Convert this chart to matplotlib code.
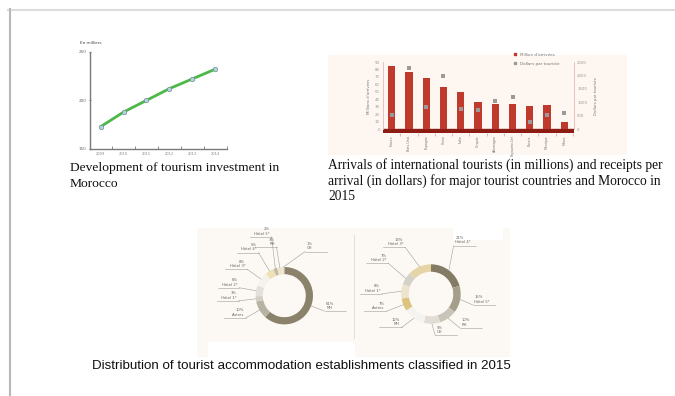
import numpy as np
import matplotlib
matplotlib.use('Agg')
import matplotlib.pyplot as plt
from matplotlib.patches import Rectangle
from matplotlib.lines import Line2D

W, H = 675, 396

# --- line chart: tourism investment (en milliers)
inv_years = ['2009', '2010', '2011', '2012', '2013', '2014']
inv_values = [173, 188, 200, 212, 222, 232]

# --- bar chart: arrivals (millions) and receipts per arrival (dollars), 2015
countries = ['France', 'Etats-Unis', 'Espagne', 'Chine', 'Italie', 'Turquie',
             'Allemagne', 'Royaume-Uni', 'Russie', 'Mexique', 'Maroc']
arrivals = [84, 76, 68, 56, 50, 36, 34, 34, 31, 32, 10]
dollars = [520, 2290, 820, 1990, 740, 720, 1050, 1210, 270, 520, 590]

# --- donuts: classified accommodation 2015
left_labels = ['MH', 'Autres', 'Hôtel 1*', 'Hôtel 2*', 'Hôtel 3*', 'Hôtel 4*', 'Hôtel 5*', 'RH', 'CH']
left_values = [61, 10, 3, 6, 8, 5, 2, 3, 1]
right_labels = ['Hôtel 4*', 'Hôtel 5*', 'RH', 'CH', 'MH', 'Autres', 'Hôtel 1*', 'Hôtel 2*', 'Hôtel 3*']
right_values = [21, 15, 10, 9, 12, 7, 8, 7, 13]

left_colors = ['#8b826c', '#b8b2a2', '#d3cfc5', '#e4e1da', '#f4f2ee', '#efe0b6', '#bdb8ab', '#efe4c6', '#e6e2d8']
right_colors = ['#847b64', '#a59e8a', '#c9c4b8', '#e1ddd4', '#f4f3ef', '#dcc47f', '#ece4cd', '#d4d1c8', '#e4d4a6']
# label placement (radius, angle shift in degrees)
left_lab = [(1.5, 0), (1.55, 0), (1.6, 0), (1.6, 0), (1.6, 0), (1.75, 0), (2.1, -6), (1.72, 0), (1.7, -27)]
right_lab = [(1.8, 12), (1.45, -4), (1.5, 5), (1.4, 4), (1.5, -6), (1.62, 0), (1.65, 5), (1.78, -4), (1.8, 6)]


def px_box(x0, y0, x1, y1):
    return [x0 / W, 1 - y1 / H, (x1 - x0) / W, (y1 - y0) / H]


fig = plt.figure(figsize=(6.75, 3.96), dpi=100)

canvas = fig.add_axes([0, 0, 1, 1], zorder=0)
canvas.set_xlim(0, W)
canvas.set_ylim(H, 0)
canvas.axis('off')

# page frame
canvas.plot([8, W], [9.5, 9.5], color='#dcdcdc', lw=1.5)
canvas.plot([9.5, 9.5], [9, H], color='#b8b8b8', lw=1.5)

# image backgrounds
canvas.add_patch(Rectangle((328, 55), 299, 100, color='#fdf6f1', lw=0))
canvas.add_patch(Rectangle((197, 228), 313, 129, color='#fcf9f4', lw=0))
canvas.add_patch(Rectangle((208, 342), 147, 16, color='white', lw=0))
canvas.add_patch(Rectangle((453, 228), 50, 12, color='white', lw=0))
canvas.plot([353.5, 353.5], [235, 338], color='#dedbd5', lw=0.6)

# captions
serif = 'Liberation Serif'
canvas.text(70, 168, 'Development of tourism investment in', family=serif, fontsize=9.7, va='center', color='#111')
canvas.text(70, 184, 'Morocco', family=serif, fontsize=9.7, va='center', color='#111')
cap2 = ['Arrivals of international tourists (in millions) and receipts per',
        'arrival (in dollars) for major tourist countries and Morocco in',
        '2015']
for i, line in enumerate(cap2):
    canvas.text(328, 165 + 16 * i, line, family=serif, fontsize=9.75, va='center', color='#111')
canvas.text(92, 366, 'Distribution of tourist accommodation establishments classified in 2015',
            family='Liberation Sans', fontsize=9.6, va='center', color='#111')

# ---------------- line chart
ax1 = fig.add_axes(px_box(90, 51.7, 227, 149), zorder=2)
ax1.patch.set_alpha(0)
xi = np.arange(len(inv_values))
ax1.plot(xi, inv_values, color='#4cb848', lw=2, marker='o', ms=3.2,
         mfc='#b7d3df', mec='#6f8f9a', mew=0.5)
ax1.set_ylim(150, 250)
ax1.set_xlim(-0.47, len(inv_values) - 0.48)
for s in ['top', 'right']:
    ax1.spines[s].set_visible(False)
for s in ['left', 'bottom']:
    ax1.spines[s].set_color('#7a7a7a')
    ax1.spines[s].set_linewidth(1)
ax1.set_yticks([150, 200, 250])
ax1.tick_params(axis='y', labelsize=3, length=2, width=0.6, colors='#666', direction='inout', pad=1.5)
ax1.set_xticks(xi)
ax1.set_xticklabels(inv_years)
ax1.tick_params(axis='x', labelsize=2.6, length=0, colors='#888', pad=2)
ax1.set_xticks(xi + 0.5, minor=True)
ax1.tick_params(axis='x', which='minor', length=2, width=0.6, direction='in', colors='#777')
canvas.text(80, 43, 'En milliers', fontsize=3, color='#444', va='center')

# ---------------- bar chart
ymin = -5.3
ax2 = fig.add_axes(px_box(382.7, 62, 574.3, 133), zorder=2)
ax2.patch.set_alpha(0)
xb = np.arange(len(countries))
ax2.axhspan(ymin, 0, color='#8c1d15', zorder=1)
ax2.bar(xb, arrivals, width=0.42, color='#bf3a2c', zorder=2)
ax2.set_ylim(ymin, 90)
ax2.set_xlim(-0.52, len(countries) - 0.42)
ax2.set_yticks(np.arange(0, 91, 10))
ax2.tick_params(axis='y', labelsize=2.8, length=0, colors='#999', pad=2)
ax2.set_xticks(xb)
ax2.set_xticklabels(countries, rotation=90)
ax2.tick_params(axis='x', labelsize=2.3, length=0, colors='#777', pad=1.5)
ax2.set_xticks(xb + 0.5, minor=True)
ax2.tick_params(axis='x', which='minor', length=2, width=0.5, colors='#d9a39b')
for s in ['top', 'bottom', 'right']:
    ax2.spines[s].set_visible(False)
ax2.spines['left'].set_color('#eab8b0')
ax2.spines['left'].set_linewidth(0.6)
ax2.spines['left'].set_bounds(0, 90)

ax3 = ax2.twinx()
ax3.set_zorder(3)
ax3.scatter(xb, dollars, marker='s', s=5, color='#9d9999', zorder=3, linewidths=0)
ax3.set_ylim(ymin / 90 * 2500, 2500)
ax3.set_yticks(np.arange(0, 2501, 500))
ax3.tick_params(axis='y', labelsize=2.8, length=0, colors='#999', pad=2)
for s in ['top', 'bottom', 'left']:
    ax3.spines[s].set_visible(False)
ax3.spines['right'].set_color('#eab8b0')
ax3.spines['right'].set_linewidth(0.6)
ax3.spines['right'].set_bounds(0, 2500)

canvas.text(369, 96, "Millions d'arrivées", rotation=90, fontsize=2.8, color='#777', ha='center', va='center')
canvas.text(596, 96, 'Dollars par touriste', rotation=90, fontsize=2.8, color='#777', ha='center', va='center')

handles = [Line2D([], [], marker='s', ls='none', color='#bf3a2c', ms=2),
           Line2D([], [], marker='s', ls='none', color='#9d9999', ms=2)]
ax3.legend(handles, ["Million d'arrivées", 'Dollars par touriste'], loc='upper left',
           bbox_to_anchor=(513 / W, 1 - 52.5 / H), bbox_transform=fig.transFigure,
           frameon=False, fontsize=3, handlelength=0.8, handletextpad=1.0,
           labelspacing=1.3, borderaxespad=0, borderpad=0, labelcolor='#777')


# ---------------- donuts
def donut(ax, labels, values, colors, lab):
    ax.pie(values, colors=colors, startangle=90, counterclock=False, radius=1,
           wedgeprops=dict(width=0.25, edgecolor='none'))
    total = float(sum(values))
    cum = 0.0
    for name, v, (r, shift) in zip(labels, values, lab):
        frac = (cum + v / 2) / total
        cum += v
        a = np.deg2rad(90 - 360 * frac)
        a2 = np.deg2rad(90 - 360 * frac + shift)
        x0, y0 = np.cos(a) * 1.0, np.sin(a) * 1.0
        px, py = np.cos(a2) * r, np.sin(a2) * r
        side = 1 if px >= 0 else -1
        ax.plot([x0, px], [y0, py], color='#a09c94', lw=0.4)
        ax.plot([px, px + side * 0.75], [py, py], color='#a09c94', lw=0.4)
        ax.text(px + side * 0.06, py + 0.04, '%d%%\n%s' % (v, name), fontsize=2.7,
                color='#666', ha='left' if side > 0 else 'right', va='bottom', linespacing=1.1)
    ax.set_xlim(-2.6, 2.6)
    ax.set_ylim(-2.6, 2.6)
    ax.set_aspect('equal')
    ax.axis('off')


axl = fig.add_axes(px_box(284.3 - 74.6, 295.7 - 74.6, 284.3 + 74.6, 295.7 + 74.6), zorder=2)
donut(axl, left_labels, left_values, left_colors, left_lab)
axr = fig.add_axes(px_box(431 - 77.2, 294 - 77.2, 431 + 77.2, 294 + 77.2), zorder=2)
donut(axr, right_labels, right_values, right_colors, right_lab)

fig.savefig('out.png', dpi=100)
